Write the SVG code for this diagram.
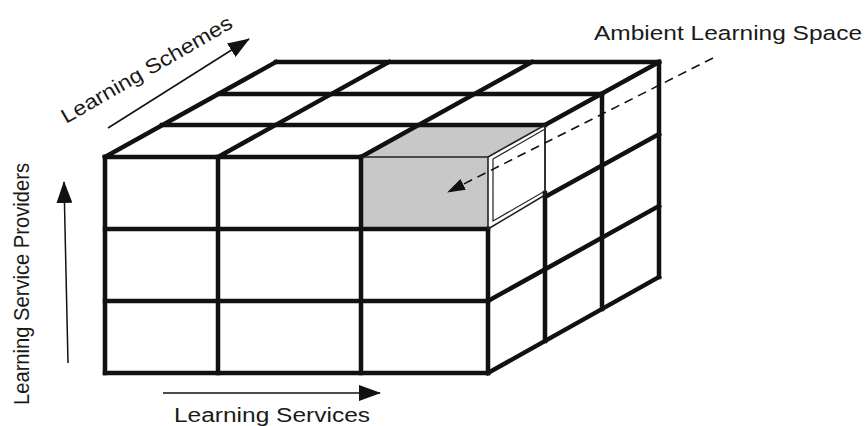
<svg xmlns="http://www.w3.org/2000/svg" width="865" height="426" viewBox="0 0 865 426">
  <style>
    .grid { stroke: #111; stroke-width: 4.5; stroke-linecap: square; fill: none; }
    .thin { stroke: #222; stroke-width: 1.6; fill: none; stroke-linejoin: miter; }
    .axis { stroke: #111; stroke-width: 1.5; fill: none; }
    .dash { stroke: #111; stroke-width: 1.6; fill: none; stroke-dasharray: 9 6; }
    .label { font-family: "Liberation Sans", Arial, sans-serif; fill: #1a1a1a; }
  </style>
  <defs>
    <marker id="head" viewBox="0 0 22 16" refX="21" refY="8" markerWidth="22" markerHeight="16" markerUnits="userSpaceOnUse" orient="auto">
      <path d="M0,0 L22,8 L0,16 z" fill="#111"/>
    </marker>
    <marker id="headSmall" viewBox="0 0 18 12" refX="17" refY="6" markerWidth="18" markerHeight="12" markerUnits="userSpaceOnUse" orient="auto">
      <path d="M0,0 L18,6 L0,12 z" fill="#111"/>
    </marker>
  </defs>

  <!-- highlighted cell: ambient learning space -->
  <g id="highlight-cell">
    <polygon points="361,157 418,125 545,125 488,157" fill="#c8c8c8"/>
    <rect x="361" y="157" width="127" height="72" fill="#c8c8c8"/>
    <polygon points="488,157 545,125 545,195 488,229" fill="#ffffff"/>
    <polygon points="493,159 545,129 545,191 493,221" fill="#d2d2d2" class="thin" style="stroke-width:1.2"/>
  </g>

  <!-- cube grid -->
  <g id="cube-grid" class="grid">
    <!-- front face -->
    <line x1="105" y1="157" x2="105" y2="373"/>
    <line x1="218" y1="157" x2="218" y2="373"/>
    <line x1="361" y1="157" x2="361" y2="373"/>
    <line x1="488" y1="229" x2="488" y2="373"/>
    <line x1="105" y1="157" x2="361" y2="157"/>
    <line x1="105" y1="229" x2="488" y2="229"/>
    <line x1="105" y1="301" x2="488" y2="301"/>
    <line x1="105" y1="373" x2="488" y2="373"/>
    <!-- top face -->
    <line x1="162" y1="125" x2="545" y2="125"/>
    <line x1="219" y1="94" x2="602" y2="94"/>
    <line x1="276" y1="62" x2="659" y2="62"/>
    <line x1="105" y1="157" x2="276" y2="62"/>
    <line x1="218" y1="157" x2="389" y2="62"/>
    <line x1="361" y1="157" x2="532" y2="62"/>
    <line x1="545" y1="125" x2="659" y2="62"/>
    <!-- right face -->
    <line x1="545" y1="193" x2="545" y2="341"/>
    <line x1="602" y1="94" x2="602" y2="309"/>
    <line x1="659" y1="62" x2="659" y2="277"/>
    <line x1="545" y1="197" x2="659" y2="134"/>
    <line x1="488" y1="301" x2="659" y2="206"/>
    <line x1="488" y1="373" x2="659" y2="277"/>
  </g>

  <!-- thin outline of the highlighted cell -->
  <g id="highlight-outline" class="thin">
    <line x1="361" y1="157" x2="488" y2="157"/>
    <line x1="488" y1="157" x2="488" y2="229"/>
    <polyline points="488,157 545,125 545,195 488,229"/>
  </g>

  <!-- axis arrows -->
  <g id="connectors">
    <line class="axis" x1="68" y1="363" x2="64" y2="182" marker-end="url(#head)"/>
    <line class="axis" x1="163" y1="393" x2="380" y2="393" marker-end="url(#head)"/>
    <line class="axis" x1="108" y1="128" x2="249" y2="39" marker-end="url(#head)"/>
    <line class="dash" x1="713" y1="58" x2="448" y2="192" marker-end="url(#headSmall)"/>
  </g>

  <!-- labels -->
  <g id="label-services">
    <text class="label" x="174" y="422" font-size="19.5" textLength="196" lengthAdjust="spacingAndGlyphs">Learning Services</text>
  </g>
  <g id="label-ambient">
    <text class="label" x="594" y="40" font-size="20.5" textLength="268" lengthAdjust="spacingAndGlyphs">Ambient Learning Space</text>
  </g>
  <g id="label-providers">
    <text class="label" transform="translate(29,405) scale(1.12,1) rotate(-90)" font-size="20" textLength="242" lengthAdjust="spacingAndGlyphs">Learning Service Providers</text>
  </g>
  <g id="label-schemes">
    <text class="label" transform="translate(66,124) rotate(-30)" font-size="20.5" textLength="194" lengthAdjust="spacingAndGlyphs">Learning Schemes</text>
  </g>
</svg>
